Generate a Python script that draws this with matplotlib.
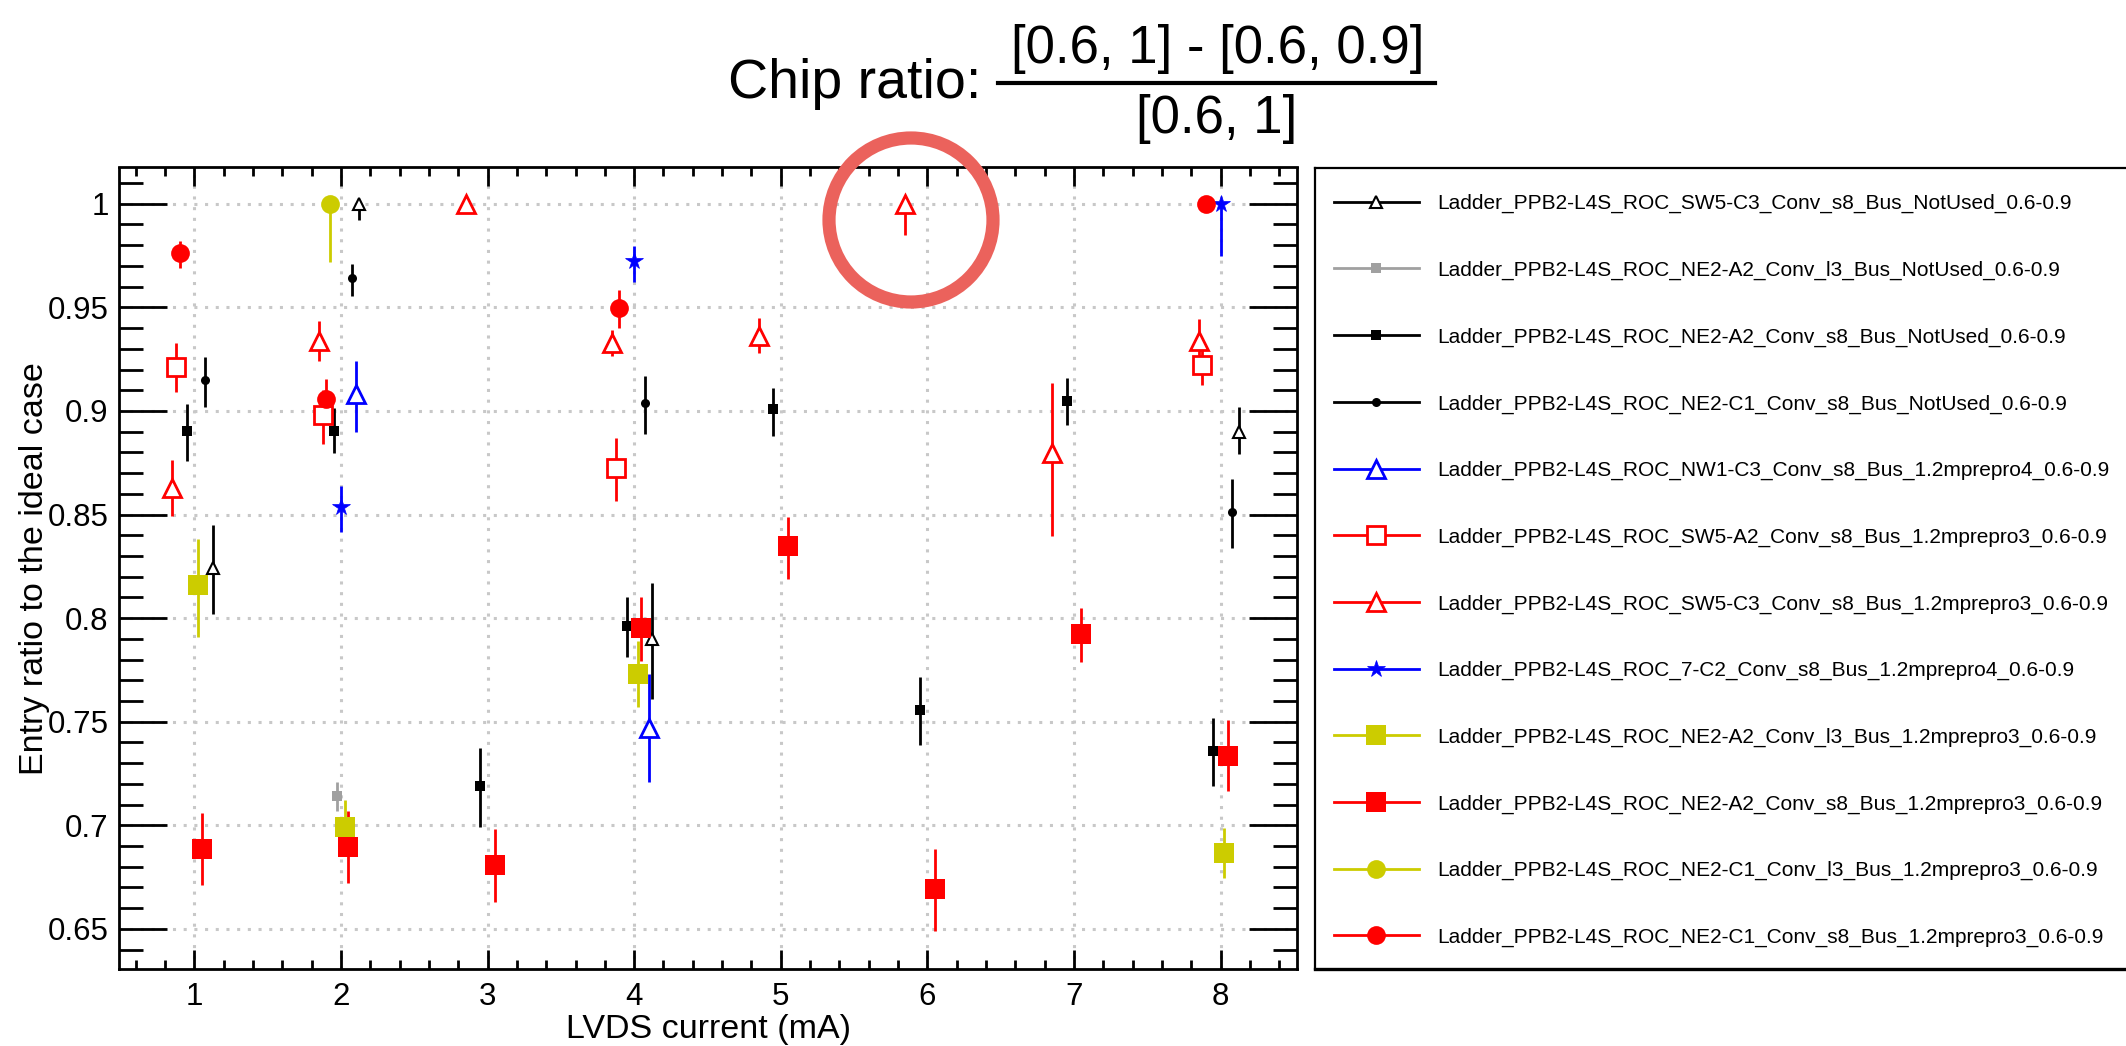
"""Chip ratio vs LVDS current for the PPB2-L4S ladder ROCs."""

import numpy as np
import matplotlib
matplotlib.use('Agg')
import matplotlib.pyplot as plt
import matplotlib.patches as patches
from matplotlib.lines import Line2D
from matplotlib.ticker import MultipleLocator, FuncFormatter

plt.rcParams['font.family'] = ['Liberation Sans', 'DejaVu Sans']

W, H = 2126, 1046

# ---------------- data ----------------
labels = [
    'Ladder_PPB2-L4S_ROC_SW5-C3_Conv_s8_Bus_NotUsed_0.6-0.9',
    'Ladder_PPB2-L4S_ROC_NE2-A2_Conv_l3_Bus_NotUsed_0.6-0.9',
    'Ladder_PPB2-L4S_ROC_NE2-A2_Conv_s8_Bus_NotUsed_0.6-0.9',
    'Ladder_PPB2-L4S_ROC_NE2-C1_Conv_s8_Bus_NotUsed_0.6-0.9',
    'Ladder_PPB2-L4S_ROC_NW1-C3_Conv_s8_Bus_1.2mprepro4_0.6-0.9',
    'Ladder_PPB2-L4S_ROC_SW5-A2_Conv_s8_Bus_1.2mprepro3_0.6-0.9',
    'Ladder_PPB2-L4S_ROC_SW5-C3_Conv_s8_Bus_1.2mprepro3_0.6-0.9',
    'Ladder_PPB2-L4S_ROC_7-C2_Conv_s8_Bus_1.2mprepro4_0.6-0.9',
    'Ladder_PPB2-L4S_ROC_NE2-A2_Conv_l3_Bus_1.2mprepro3_0.6-0.9',
    'Ladder_PPB2-L4S_ROC_NE2-A2_Conv_s8_Bus_1.2mprepro3_0.6-0.9',
    'Ladder_PPB2-L4S_ROC_NE2-C1_Conv_l3_Bus_1.2mprepro3_0.6-0.9',
    'Ladder_PPB2-L4S_ROC_NE2-C1_Conv_s8_Bus_1.2mprepro3_0.6-0.9',
]

# LVDS current (mA), ratio, lower / upper error
sw5c3_nu_x = [1, 2, 4, 8]
sw5c3_nu_y = [0.824, 1.0, 0.790, 0.890]
sw5c3_nu_lo = [0.022, 0.008, 0.029, 0.011]
sw5c3_nu_hi = [0.021, 0.0, 0.027, 0.012]

ne2a2_l3_nu_x = [2]
ne2a2_l3_nu_y = [0.714]
ne2a2_l3_nu_lo = [0.007]
ne2a2_l3_nu_hi = [0.007]

ne2a2_s8_nu_x = [1, 2, 3, 4, 5, 6, 7, 8]
ne2a2_s8_nu_y = [0.8905, 0.8905, 0.719, 0.796, 0.9007, 0.7555, 0.9047, 0.7358]
ne2a2_s8_nu_lo = [0.0145, 0.011, 0.020, 0.015, 0.0127, 0.0167, 0.0117, 0.0166]
ne2a2_s8_nu_hi = [0.013, 0.011, 0.0185, 0.014, 0.0103, 0.016, 0.011, 0.016]

ne2c1_s8_nu_x = [1, 2, 4, 8]
ne2c1_s8_nu_y = [0.915, 0.964, 0.904, 0.851]
ne2c1_s8_nu_lo = [0.013, 0.0084, 0.015, 0.017]
ne2c1_s8_nu_hi = [0.011, 0.007, 0.013, 0.016]

nw1c3_pp4_x = [2, 4]
nw1c3_pp4_y = [0.908, 0.747]
nw1c3_pp4_lo = [0.018, 0.026]
nw1c3_pp4_hi = [0.016, 0.026]

sw5a2_pp3_x = [1, 2, 4, 8]
sw5a2_pp3_y = [0.921, 0.898, 0.8727, 0.9224]
sw5a2_pp3_lo = [0.012, 0.014, 0.016, 0.010]
sw5a2_pp3_hi = [0.012, 0.012, 0.014, 0.008]

sw5c3_pp3_x = [1, 2, 3, 4, 5, 6, 7, 8]
sw5c3_pp3_y = [0.8627, 0.9337, 1.0, 0.933, 0.936, 1.0, 0.8796, 0.9336]
sw5c3_pp3_lo = [0.0135, 0.0098, 0.0, 0.0067, 0.008, 0.015, 0.040, 0.0104]
sw5c3_pp3_hi = [0.0138, 0.0097, 0.0, 0.006, 0.0088, 0.0, 0.034, 0.0107]

c2_pp4_x = [2, 4, 8]
c2_pp4_y = [0.8537, 0.9722, 1.0]
c2_pp4_lo = [0.0121, 0.010, 0.0253]
c2_pp4_hi = [0.0103, 0.0072, 0.0]

ne2a2_l3_pp3_x = [1, 2, 4, 8]
ne2a2_l3_pp3_y = [0.816, 0.6993, 0.773, 0.6865]
ne2a2_l3_pp3_lo = [0.025, 0.011, 0.016, 0.012]
ne2a2_l3_pp3_hi = [0.022, 0.0127, 0.016, 0.012]

ne2a2_s8_pp3_x = [1, 2, 3, 4, 5, 6, 7, 8]
ne2a2_s8_pp3_y = [0.6885, 0.6893, 0.6808, 0.7953, 0.8346, 0.6692, 0.7925, 0.7336]
ne2a2_s8_pp3_lo = [0.0175, 0.0173, 0.0177, 0.016, 0.0156, 0.020, 0.0135, 0.017]
ne2a2_s8_pp3_hi = [0.0172, 0.0174, 0.0175, 0.015, 0.0144, 0.0193, 0.0125, 0.017]

ne2c1_l3_pp3_x = [2]
ne2c1_l3_pp3_y = [1.0]
ne2c1_l3_pp3_lo = [0.028]
ne2c1_l3_pp3_hi = [0.0]

ne2c1_s8_pp3_x = [1, 2, 4, 8]
ne2c1_s8_pp3_y = [0.976, 0.9056, 0.9495, 1.0]
ne2c1_s8_pp3_lo = [0.007, 0.010, 0.0095, 0.0]
ne2c1_s8_pp3_hi = [0.006, 0.010, 0.009, 0.0]

xs_all = [sw5c3_nu_x, ne2a2_l3_nu_x, ne2a2_s8_nu_x, ne2c1_s8_nu_x, nw1c3_pp4_x, sw5a2_pp3_x,
          sw5c3_pp3_x, c2_pp4_x, ne2a2_l3_pp3_x, ne2a2_s8_pp3_x, ne2c1_l3_pp3_x, ne2c1_s8_pp3_x]
ys_all = [sw5c3_nu_y, ne2a2_l3_nu_y, ne2a2_s8_nu_y, ne2c1_s8_nu_y, nw1c3_pp4_y, sw5a2_pp3_y,
          sw5c3_pp3_y, c2_pp4_y, ne2a2_l3_pp3_y, ne2a2_s8_pp3_y, ne2c1_l3_pp3_y, ne2c1_s8_pp3_y]
lo_all = [sw5c3_nu_lo, ne2a2_l3_nu_lo, ne2a2_s8_nu_lo, ne2c1_s8_nu_lo, nw1c3_pp4_lo, sw5a2_pp3_lo,
          sw5c3_pp3_lo, c2_pp4_lo, ne2a2_l3_pp3_lo, ne2a2_s8_pp3_lo, ne2c1_l3_pp3_lo, ne2c1_s8_pp3_lo]
hi_all = [sw5c3_nu_hi, ne2a2_l3_nu_hi, ne2a2_s8_nu_hi, ne2c1_s8_nu_hi, nw1c3_pp4_hi, sw5a2_pp3_hi,
          sw5c3_pp3_hi, c2_pp4_hi, ne2a2_l3_pp3_hi, ne2a2_s8_pp3_hi, ne2c1_l3_pp3_hi, ne2c1_s8_pp3_hi]

# ---------------- styles ----------------
YEL = '#cccc00'
GRY = '#a0a0a0'
# (x offset, marker, colour, size, open)
styles = [
    (0.125, '^', 'k', 8, True),
    (-0.025, 's', GRY, 7, False),
    (-0.05, 's', 'k', 7, False),
    (0.075, 'o', 'k', 6.5, False),
    (0.1, '^', 'b', 13.5, True),
    (-0.125, 's', 'r', 12.5, True),
    (-0.15, '^', 'r', 13.5, True),
    (0.0, '*', 'b', 13, False),
    (0.025, 's', YEL, 14.4, False),
    (0.05, 's', 'r', 14.4, False),
    (-0.075, 'o', YEL, 13.5, False),
    (-0.1, 'o', 'r', 13.5, False),
]


def marker_kw(mk, col, ms, hollow):
    if hollow:
        return dict(marker=mk, ms=ms, mfc='white', mec=col, mew=2.0 if ms > 10 else 1.5)
    return dict(marker=mk, ms=ms, mfc=col, mec=col, mew=0.5 if mk == '*' else 0)


fig = plt.figure(figsize=(W / 100, H / 100), dpi=100)
ax = fig.add_axes([119 / W, (H - 969.3) / H, 1178 / W, 801.8 / H])

for i in range(len(labels)):
    off, mk, col, ms, hollow = styles[i]
    x = np.array(xs_all[i]) + off
    ax.errorbar(x, ys_all[i], yerr=[lo_all[i], hi_all[i]], linestyle='none',
                ecolor=col, elinewidth=2.0, capsize=0,
                **marker_kw(mk, col, ms, hollow))

ax.set_xlim(0.487, 8.52)
ax.set_ylim(0.6305, 1.0175)

ax.xaxis.set_major_locator(MultipleLocator(1))
ax.xaxis.set_minor_locator(MultipleLocator(0.2))
ax.yaxis.set_major_locator(MultipleLocator(0.05))
ax.yaxis.set_minor_locator(MultipleLocator(0.01))
ax.yaxis.set_major_formatter(FuncFormatter(lambda v, p: '%g' % round(v, 2)))

ax.tick_params(which='both', direction='in', top=True, right=True, width=2, color='k')
ax.tick_params(axis='x', which='major', length=13.5, pad=9, labelsize=22.5)
ax.tick_params(axis='x', which='minor', length=6.7)
ax.tick_params(axis='y', which='major', length=34.6, pad=7.5, labelsize=22.5)
ax.tick_params(axis='y', which='minor', length=17.3)
for sp in ax.spines.values():
    sp.set_linewidth(2)

ax.grid(True, which='major', color='#c8c8c8', linestyle=(0, (1.0, 2.5)), linewidth=2.2)

# axis titles
fig.text(708 / W, 1 - 1038 / H, 'LVDS current (mA)', fontsize=24.5, ha='center', va='baseline')
fig.text(43 / W, 1 - 568.4 / H, 'Entry ratio to the ideal case', fontsize=24.5,
         rotation=90, ha='center', va='baseline', rotation_mode='anchor')

# title with fraction
fig.text(728 / W, 1 - 98 / H, 'Chip ratio:', fontsize=40, ha='left', va='baseline')
fig.text(1218 / W, 1 - 63.3 / H, '[0.6, 1] - [0.6, 0.9]', fontsize=38, ha='center', va='baseline')
fig.text(1217 / W, 1 - 133 / H, '[0.6, 1]', fontsize=38, ha='center', va='baseline')
fig.add_artist(Line2D([998 / W, 1435 / W], [1 - 83.3 / H, 1 - 83.3 / H], color='k', lw=3))

# legend box, drawn in pixel units
lax = fig.add_axes([1315 / W, (H - 969) / H, (2150 - 1315) / W, (969 - 167.5) / H])
lax.set_xlim(1315, 2150)
lax.set_ylim(969, 167.5)
lax.set_xticks([])
lax.set_yticks([])
lax.spines['right'].set_visible(False)
for side in ('left', 'top'):
    lax.spines[side].set_linewidth(1.6)
lax.spines['bottom'].set_linewidth(2.4)

for i, lab in enumerate(labels):
    off, mk, col, ms, hollow = styles[i]
    yy = 201.7 + i * 66.7
    lax.plot([1334, 1419], [yy, yy], color=col, lw=2.0)
    lax.plot([1376], [yy], linestyle='none', **marker_kw(mk, col, ms, hollow))
    lax.text(1437.7, yy + 7.5, lab, fontsize=15, ha='left', va='baseline')

# hand-drawn highlight circle
fig.add_artist(patches.Ellipse((911 / W, 1 - 220 / H), 164 / W, 164 / H,
                               transform=fig.transFigure, fill=False,
                               ec='#eb625c', lw=9.5, zorder=5))

fig.savefig('out.png', dpi=100)
